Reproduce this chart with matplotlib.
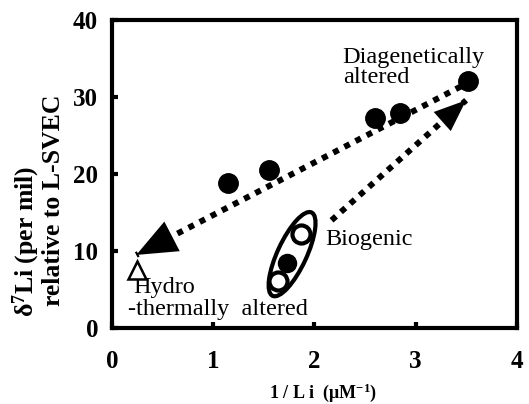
import matplotlib
matplotlib.use("Agg")
import matplotlib.pyplot as plt
import numpy as np
from matplotlib.patches import Ellipse
from matplotlib.transforms import ScaledTranslation

plt.rcParams['font.family'] = ['Liberation Serif', 'DejaVu Serif']
plt.rcParams['mathtext.fontset'] = 'custom'
plt.rcParams['mathtext.rm'] = 'Liberation Serif'
plt.rcParams['mathtext.bf'] = 'Liberation Serif:bold'
plt.rcParams['mathtext.it'] = 'Liberation Serif:italic'

# Data
diag_x = [1.15, 1.55, 2.60, 2.85, 3.52]
diag_y = [18.9, 20.6, 27.3, 28.0, 32.1]
bio_filled_x = [1.73]
bio_filled_y = [8.4]
bio_open_x = [1.87, 1.64]
bio_open_y = [12.2, 6.1]
hydro_x = [0.25]
hydro_y = [7.6]

arrow1_start = (3.45, 31.4)
arrow1_tip = (0.24, 9.5)
arrow2_start = (2.17, 14.0)
arrow2_tip = (3.50, 29.6)
ellipse_center = (1.78, 9.6)

xticks = [0, 1, 2, 3, 4]
yticks = [0, 10, 20, 30, 40]

fig = plt.figure(figsize=(5.29, 4.04), dpi=100)
ax = fig.add_axes([0.2117, 0.188, 0.765, 0.762])
ax.set_xlim(0, 4)
ax.set_ylim(0, 40)

for s in ax.spines.values():
    s.set_linewidth(3)
ax.set_xticks(xticks)
ax.set_yticks(yticks)
ax.tick_params(direction='in', length=4, width=3)
ax.tick_params(axis='x', pad=16)
ax.tick_params(axis='y', pad=10)
for lab in ax.get_xticklabels() + ax.get_yticklabels():
    lab.set_fontsize(18)
    lab.set_fontweight('bold')

def dotted_arrow(start, tip, hl, hw):
    x0, y0 = start
    x1, y1 = tip
    ax.plot([x0, x1], [y0, y1], color='black', lw=4.3, linestyle=(0, (1, 1.1)),
            dash_capstyle='butt', solid_capstyle='butt', zorder=2)
    ax.annotate('', xy=tip, xytext=start,
                arrowprops=dict(arrowstyle='-|>,head_length=%g,head_width=%g' % (hl, hw),
                                color='black', lw=0.01, shrinkA=0, shrinkB=0,
                                linestyle='-', mutation_scale=10), zorder=3)

dotted_arrow(arrow1_start, arrow1_tip, 2.9, 1.2)
dotted_arrow(arrow2_start, arrow2_tip, 2.3, 0.92)

ax.plot(diag_x, diag_y, 'o', color='black', ms=14, zorder=4)
ax.plot(bio_filled_x, bio_filled_y, 'o', color='black', ms=13, zorder=4)
ax.plot(bio_open_x, bio_open_y, 'o', mfc='white', mec='black', mew=3, ms=13, zorder=4)
ax.plot(hydro_x, hydro_y, '^', mfc='white', mec='black', mew=1.8, ms=13, zorder=4)

ell = Ellipse((0, 0), width=0.92, height=0.29, angle=65, fill=False, lw=3, color='black',
              transform=fig.dpi_scale_trans + ScaledTranslation(ellipse_center[0], ellipse_center[1], ax.transData),
              zorder=3)
ax.add_patch(ell)

fs = 17.5
ax.text(2.28, 34.4, 'Diagenetically', fontsize=fs, va='baseline', ha='left')
ax.text(2.28, 31.9, 'altered', fontsize=fs, va='baseline', ha='left')
ax.text(2.11, 10.8, 'Biogenic', fontsize=fs, va='baseline', ha='left')
ax.text(0.21, 4.5, 'Hydro', fontsize=fs, va='baseline', ha='left')
ax.text(0.16, 1.7, '-thermally  altered', fontsize=fs, va='baseline', ha='left')

fig.text(0.049, 0.403, 'δ$^{\\mathbf{7}}$Li (per mil)', rotation=90, fontsize=18.5,
         fontweight='bold', ha='center', va='center')
fig.text(0.102, 0.505, 'relative to L-SVEC', rotation=90, fontsize=18.5,
         fontweight='bold', ha='center', va='center')
fig.text(0.611, 0.027, '1 / L i  (μM$^{\\mathbf{-1}}$)', fontsize=13,
         fontweight='bold', ha='center', va='center')

fig.savefig('out.png', dpi=100)
